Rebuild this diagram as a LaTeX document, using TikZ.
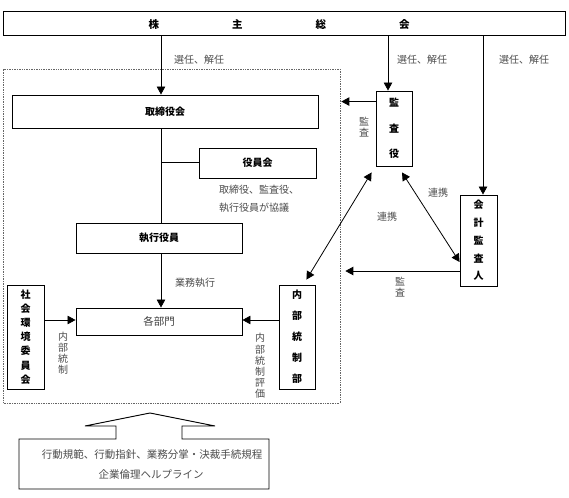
\documentclass[tikz,border=0pt]{standalone}
\usepackage{fontspec}
\setmainfont{Noto Sans CJK JP}
\usetikzlibrary{arrows.meta,calc}
\begin{document}
\begin{tikzpicture}[x=1pt,y=-1pt,
  box/.style={draw, line width=0.9pt, inner sep=0pt, font=\fontsize{10}{12}\selectfont\bfseries},
  lbl/.style={inner sep=0pt, text=black!70, font=\fontsize{10}{12}\selectfont},
  vlbl/.style={inner sep=0pt, text=black!70, align=center, font=\fontsize{10}{11.2}\selectfont},
  arr/.style={-{Triangle[length=8pt,width=8.5pt]}, line width=0.8pt},
  dbl/.style={{Triangle[length=8pt,width=8.5pt]}-{Triangle[length=8pt,width=8.5pt]}, line width=0.8pt},
  ln/.style={line width=0.8pt}]
\useasboundingbox (0,0) rectangle (569,497);
\fill[white] (0,0) rectangle (569,497);

% dotted group
\node[draw=black!60, densely dotted, line width=0.7pt, minimum width=336.5pt, minimum height=334pt, inner sep=0pt] (grp) at (171.75,236) {};

% shareholders meeting
\node[box, minimum width=562pt, minimum height=24pt] (kabu) at (284,23) {};
\node[inner sep=0pt, font=\fontsize{10.5}{12}\selectfont\bfseries] (kabut) at (279,24) {株\hspace{73pt}主\hspace{73pt}総\hspace{73pt}会};

% boxes
\node[box, minimum width=306pt, minimum height=33pt] (tori) at (165,111.5) {取締役会};
\node[box, minimum width=117pt, minimum height=30pt] (yakuin) at (257.5,163) {役員会};
\node[box, minimum width=166pt, minimum height=30pt] (shikkou) at (159,238) {執行役員};
\node[box, minimum width=166pt, minimum height=27pt, text=black!75, font=\fontsize{10.5}{12}\selectfont] (kakubu) at (159,321.5) {各部門};
\node[box, minimum width=37pt, minimum height=104pt, align=center, font=\fontsize{10}{14.2}\selectfont\bfseries] (shakai) at (25.5,337) {社\\会\\環\\境\\委\\員\\会};
\node[box, minimum width=36pt, minimum height=104pt, align=center, font=\fontsize{10}{21}\selectfont\bfseries] (naibu) at (297,337) {内\\部\\統\\制\\部};
\node[box, minimum width=36pt, minimum height=75pt, align=center, font=\fontsize{10}{25.5}\selectfont\bfseries] (kansa) at (394,128.5) {監\\査\\役};
\node[box, minimum width=37pt, minimum height=91pt, align=center, font=\fontsize{10}{17.75}\selectfont\bfseries] (kaikei) at (478.5,240.5) {会\\計\\監\\査\\人};

% helper x positions
\coordinate (v1) at (161,0);
\coordinate (v2) at (388,0);
\coordinate (v3) at (483,0);

% arrows from shareholders meeting
\draw[arr] (kabu.south -| v1) -- (tori.north -| v1);
\draw[arr] (kabu.south -| v2) -- (kansa.north -| v2);
\draw[arr] (kabu.south -| v3) -- (kaikei.north -| v3);
\node[lbl] (sen1) at (199,60) {選任、解任};
\node[lbl] (sen2) at (422,60) {選任、解任};
\node[lbl] (sen3) at (524,60) {選任、解任};

% audit arrow from kansa to group
\coordinate (a1) at ($(kansa.north west)+(0,11)$);
\draw[arr] (a1) -- ($(a1 -| grp.east)+(1,0)$);
\node[vlbl] (kansaL1) at (364,127) {監\\査};

% internal lines
\draw[ln] (tori.south -| v1) -- (shikkou.north -| v1);
\coordinate (b1) at (161,162);
\draw[ln] (b1) -- (b1 -| yakuin.west);
\node[lbl, anchor=west, align=left, font=\fontsize{10}{18}\selectfont] (yakuinN) at (219,199) {取締役、監査役、\\執行役員が協議};
\draw[arr] (shikkou.south -| v1) -- (kakubu.north -| v1);
\node[lbl] (gyomu) at (195,283) {業務執行};

\coordinate (c1) at ($(kakubu.west)+(0,-1.5)$);
\draw[arr] (c1 -| shakai.east) -- (c1);
\node[vlbl] (naibuL) at (63,353) {内\\部\\統\\制};
\coordinate (c2) at ($(kakubu.east)+(0,-1.5)$);
\draw[arr] (c2 -| naibu.west) -- (c2);
\node[vlbl] (hyoka) at (260,366) {内\\部\\統\\制\\評\\価};

% cooperation arrows
\draw[dbl] ($(kansa.south west)+(-4,6)$) -- ($(naibu.north east)+(-9,-5)$);
\draw[dbl] ($(kansa.south)+(8,6)$) -- ($(kaikei.west)+(0,21.5)$);
\node[lbl] (renkei1) at (438,193) {連携};
\node[lbl] (renkei2) at (387,217) {連携};

% audit arrow from kaikei
\coordinate (k1) at ($(kaikei.west)+(0,30.5)$);
\draw[arr] (k1) -- ($(k1 -| grp.east)+(5,0)$);
\node[vlbl] (kansaL2) at (400,287) {監\\査};

% bottom base with up arrow
\draw[line width=0.9pt] (19,439) -- (116,439) -- (116,426) -- (85,426) -- (150,413) -- (215,426) -- (182,426) -- (182,439) -- (269,439) -- (269,489) -- (19,489) -- cycle;
\node[lbl, font=\fontsize{10.5}{12}\selectfont] (rule1) at (152,455) {行動規範、行動指針、業務分掌・決裁手続規程};
\node[lbl, font=\fontsize{10.5}{12}\selectfont] (rule2) at (151,474) {企業倫理ヘルプライン};
\end{tikzpicture}
\end{document}
